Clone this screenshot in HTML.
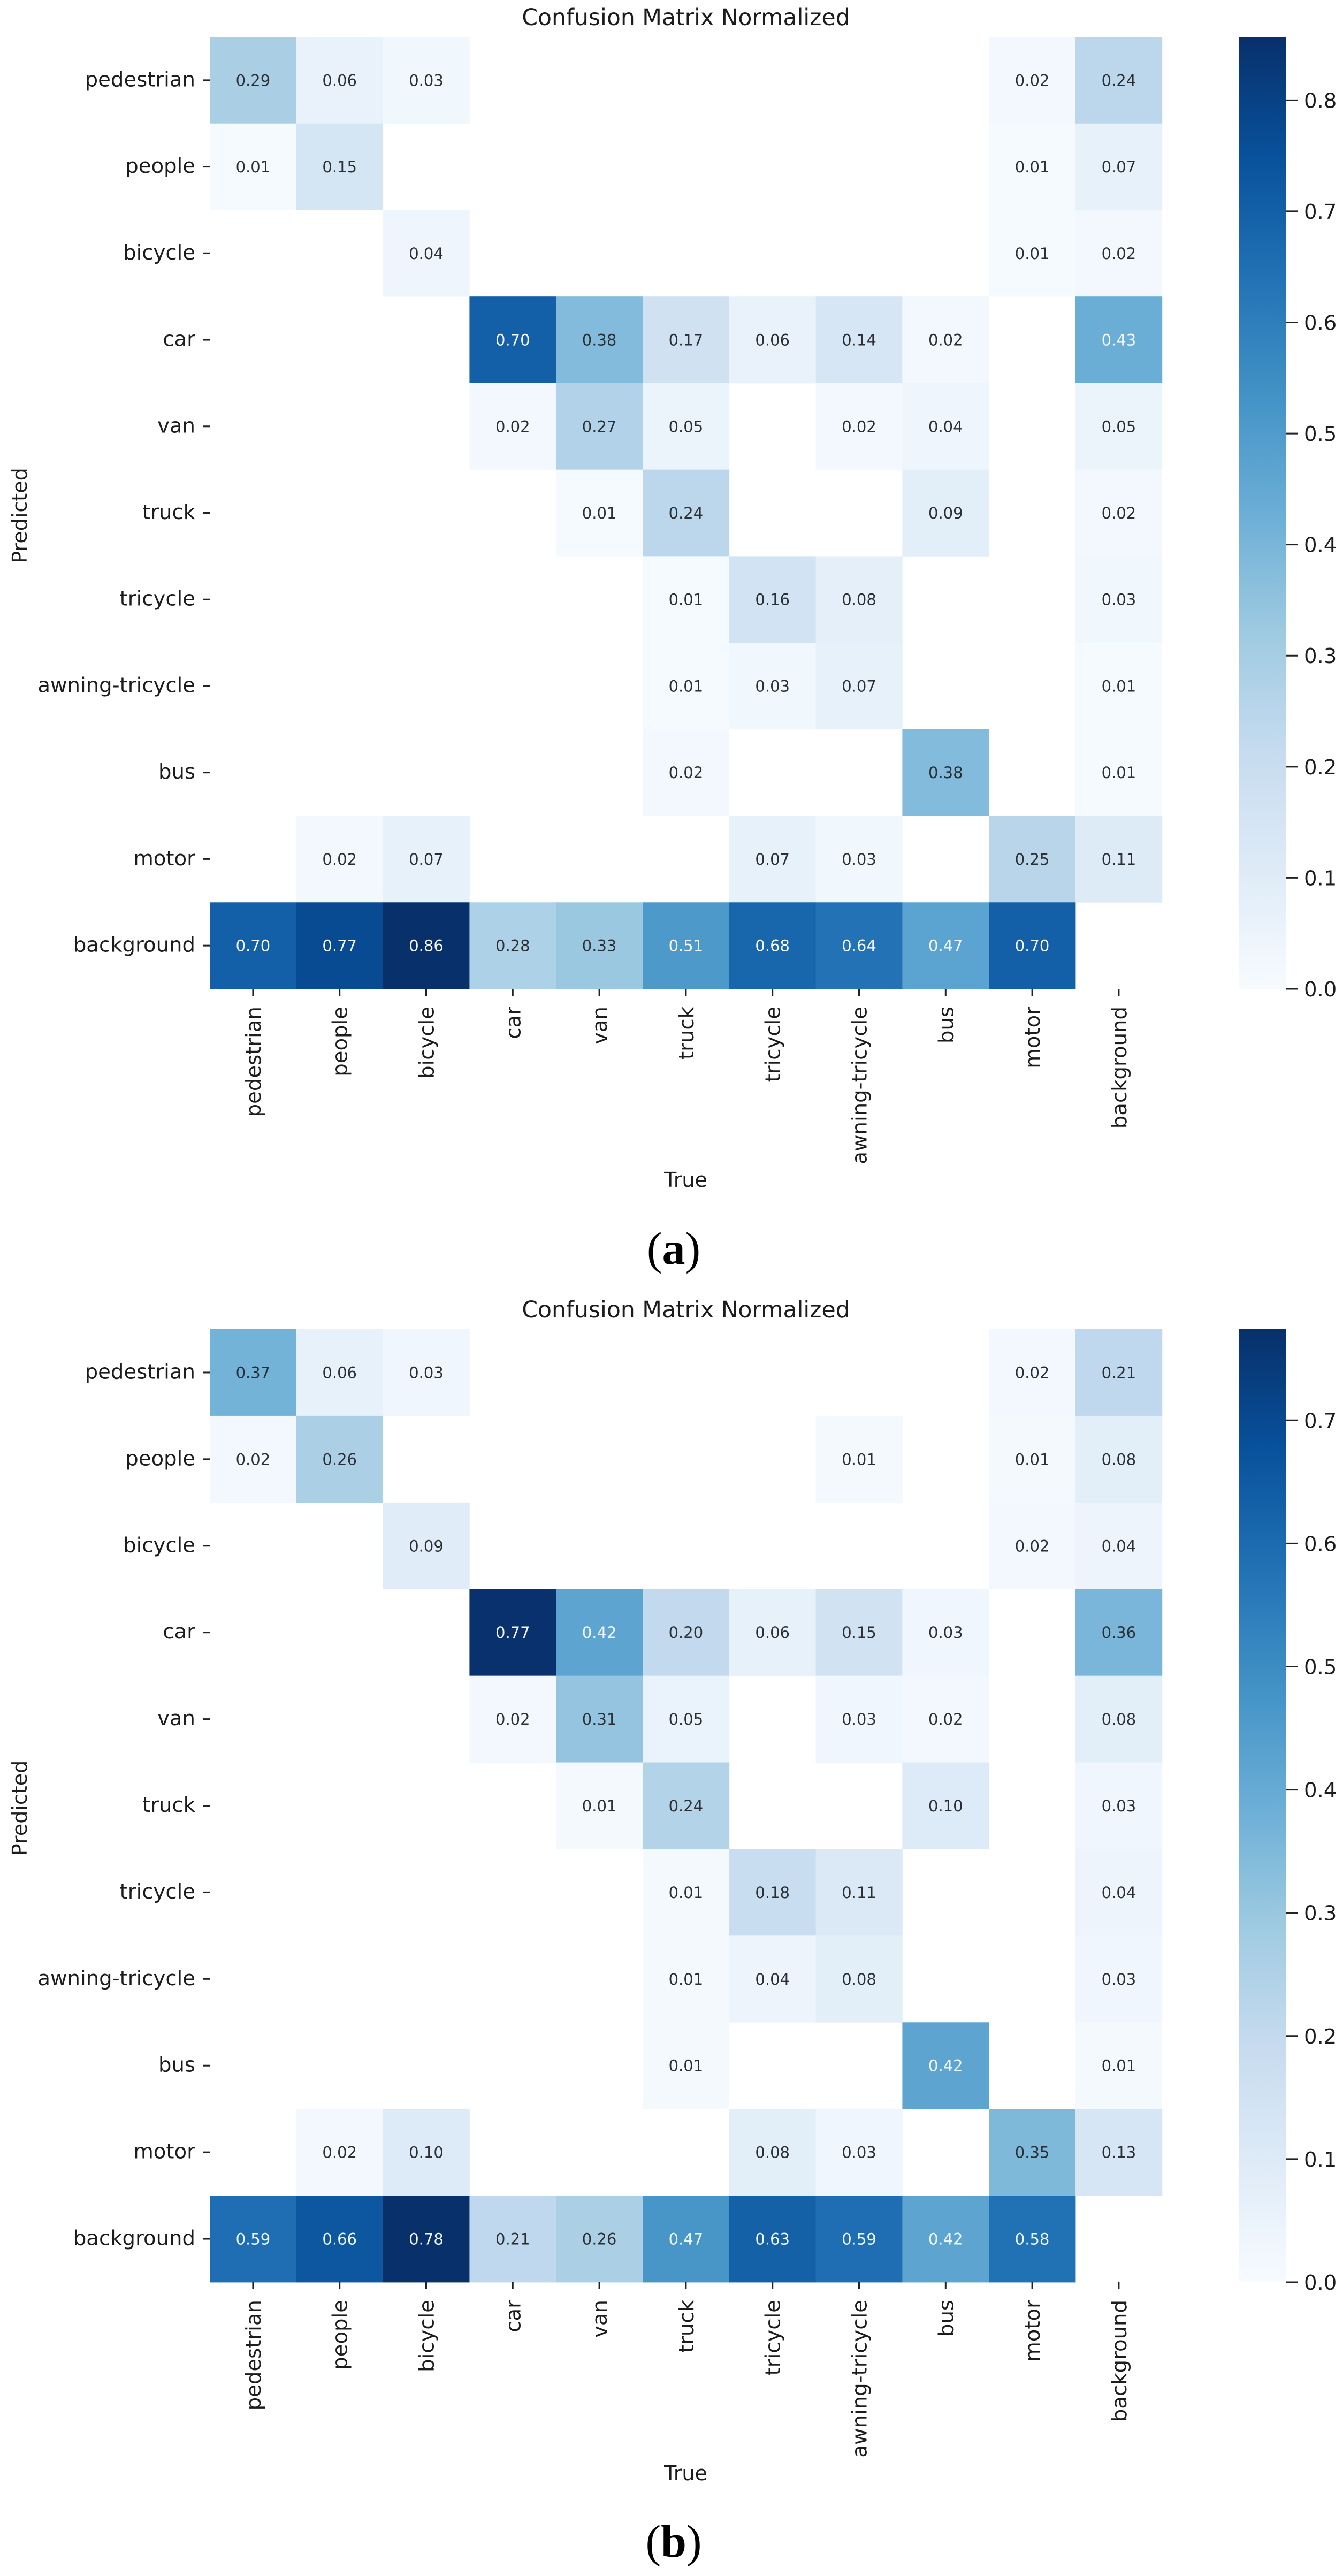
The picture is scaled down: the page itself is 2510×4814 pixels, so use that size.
<!DOCTYPE html>
<html lang="en">
<head>
<meta charset="utf-8">
<title>Confusion Matrix Normalized</title>
<style>
  html, body { margin: 0; padding: 0; background: #ffffff; }
  svg { display: block; }
  text { font-family: "DejaVu Sans", "Liberation Sans", sans-serif; fill: #1c1c1c; }
  .tick-label { font-size: 38.6px; }
  .axis-title { font-size: 38px; }
  .chart-title { font-size: 42.5px; text-anchor: middle; }
  .annot { font-size: 29px; text-anchor: middle; }
  .caption { font-family: "Liberation Serif", serif; font-size: 86px; text-anchor: middle; fill: #000; }
  .caption .letter { font-weight: bold; }
</style>
</head>
<body>
<svg id="figure" xmlns="http://www.w3.org/2000/svg" width="2510" height="4814" viewBox="0 0 2510 4814">
  <rect x="0" y="0" width="2510" height="4814" fill="#ffffff"/>
  <defs>
    <linearGradient id="blues-gradient" x1="0" y1="1" x2="0" y2="0"></linearGradient>
  </defs>

  <g id="chart-a">
    <text class="chart-title" x="1282" y="47">Confusion Matrix Normalized</text>
    <text class="axis-title" text-anchor="middle" transform="translate(50,963.5) rotate(-90)">Predicted</text>
    <text class="axis-title" text-anchor="middle" x="1281.5" y="2218">True</text>
    <text class="caption" x="1259" y="2362">(<tspan class="letter">a</tspan>)</text>
  </g>

  <g id="chart-b">
    <text class="chart-title" x="1282" y="2462">Confusion Matrix Normalized</text>
    <text class="axis-title" text-anchor="middle" transform="translate(50,3379) rotate(-90)">Predicted</text>
    <text class="axis-title" text-anchor="middle" x="1281.5" y="4635">True</text>
    <text class="caption" x="1259" y="4778">(<tspan class="letter">b</tspan>)</text>
  </g>
</svg>

<script>
// ---- data ----
const categories = ['pedestrian', 'people', 'bicycle', 'car', 'van', 'truck', 'tricycle', 'awning-tricycle', 'bus', 'motor', 'background'];

const matrixA = [
  [0.29, 0.06, 0.03, null, null, null, null, null, null, 0.02, 0.24],
  [0.01, 0.15, null, null, null, null, null, null, null, 0.01, 0.07],
  [null, null, 0.04, null, null, null, null, null, null, 0.01, 0.02],
  [null, null, null, 0.70, 0.38, 0.17, 0.06, 0.14, 0.02, null, 0.43],
  [null, null, null, 0.02, 0.27, 0.05, null, 0.02, 0.04, null, 0.05],
  [null, null, null, null, 0.01, 0.24, null, null, 0.09, null, 0.02],
  [null, null, null, null, null, 0.01, 0.16, 0.08, null, null, 0.03],
  [null, null, null, null, null, 0.01, 0.03, 0.07, null, null, 0.01],
  [null, null, null, null, null, 0.02, null, null, 0.38, null, 0.01],
  [null, 0.02, 0.07, null, null, null, 0.07, 0.03, null, 0.25, 0.11],
  [0.70, 0.77, 0.86, 0.28, 0.33, 0.51, 0.68, 0.64, 0.47, 0.70, null]
];

const matrixB = [
  [0.37, 0.06, 0.03, null, null, null, null, null, null, 0.02, 0.21],
  [0.02, 0.26, null, null, null, null, null, 0.01, null, 0.01, 0.08],
  [null, null, 0.09, null, null, null, null, null, null, 0.02, 0.04],
  [null, null, null, 0.77, 0.42, 0.20, 0.06, 0.15, 0.03, null, 0.36],
  [null, null, null, 0.02, 0.31, 0.05, null, 0.03, 0.02, null, 0.08],
  [null, null, null, null, 0.01, 0.24, null, null, 0.10, null, 0.03],
  [null, null, null, null, null, 0.01, 0.18, 0.11, null, null, 0.04],
  [null, null, null, null, null, 0.01, 0.04, 0.08, null, null, 0.03],
  [null, null, null, null, null, 0.01, null, null, 0.42, null, 0.01],
  [null, 0.02, 0.10, null, null, null, 0.08, 0.03, null, 0.35, 0.13],
  [0.59, 0.66, 0.78, 0.21, 0.26, 0.47, 0.63, 0.59, 0.42, 0.58, null]
];

const colorbarTicksA = [0.0, 0.1, 0.2, 0.3, 0.4, 0.5, 0.6, 0.7, 0.8];
const colorbarTicksB = [0.0, 0.1, 0.2, 0.3, 0.4, 0.5, 0.6, 0.7];
const colorbarMaxA = 0.857;
const colorbarMaxB = 0.774;

// Matplotlib "Blues" anchors, evenly spaced from 0 to 1
const bluesAnchors = ['#f7fbff', '#deebf7', '#c6dbef', '#9ecae1', '#6baed6', '#4292c6', '#2171b5', '#08519c', '#08306b'];

// ---- layout ----
const SVG_NS = 'http://www.w3.org/2000/svg';
const plotLeft = 392;
const cellWidth = 161.8;
const colorbarLeft = 2315;
const colorbarRight = 2404;

function hexToRgb(hex) {
  return [parseInt(hex.slice(1, 3), 16), parseInt(hex.slice(3, 5), 16), parseInt(hex.slice(5, 7), 16)];
}

function bluesRgb(t) {
  const clamped = Math.max(0, Math.min(1, t));
  const pos = clamped * (bluesAnchors.length - 1);
  const lo = Math.min(Math.floor(pos), bluesAnchors.length - 2);
  const f = pos - lo;
  const a = hexToRgb(bluesAnchors[lo]);
  const b = hexToRgb(bluesAnchors[lo + 1]);
  return [0, 1, 2].map(function (k) { return Math.round(a[k] + (b[k] - a[k]) * f); });
}

function luminance(rgb) {
  const lin = rgb.map(function (c) {
    const v = c / 255;
    return v <= 0.03928 ? v / 12.92 : Math.pow((v + 0.055) / 1.055, 2.4);
  });
  return 0.2126 * lin[0] + 0.7152 * lin[1] + 0.0722 * lin[2];
}

function make(tag, attrs, parent) {
  const el = document.createElementNS(SVG_NS, tag);
  Object.keys(attrs).forEach(function (k) { el.setAttribute(k, attrs[k]); });
  parent.appendChild(el);
  return el;
}

// colorbar gradient built from the colormap anchors
const gradient = document.getElementById('blues-gradient');
bluesAnchors.forEach(function (color, i) {
  make('stop', { offset: i / (bluesAnchors.length - 1), 'stop-color': color }, gradient);
});

function drawMatrix(parent, matrix, top, bottom, colorbarMax, colorbarTicks) {
  const rowHeight = (bottom - top) / categories.length;
  const xCenter = function (i) { return plotLeft + (i + 0.5) * cellWidth; };
  const yCenter = function (i) { return top + (i + 0.5) * rowHeight; };
  const yBar = function (v) { return bottom - (bottom - top) * v / colorbarMax; };

  // cells and annotations
  matrix.forEach(function (row, r) {
    row.forEach(function (value, c) {
      if (value === null) { return; }
      const rgb = bluesRgb(value / colorbarMax);
      const cell = make('rect', {
        x: plotLeft + c * cellWidth,
        y: top + r * rowHeight,
        width: cellWidth + 0.4,
        height: rowHeight + 0.4,
        fill: 'rgb(' + rgb.join(',') + ')'
      }, parent);
      
      

      const label = make('text', {
        class: 'annot',
        x: xCenter(c),
        y: yCenter(r) + 10.5,
        style: 'fill:' + (luminance(rgb) < 0.408 ? '#f4f8fc' : '#2b2f33')
      }, parent);
      label.textContent = value.toFixed(2);
      
      
    });
  });

  // category ticks and labels
  categories.forEach(function (name, i) {
    const yTick = make('line', {
      x1: 380, x2: plotLeft, y1: yCenter(i), y2: yCenter(i), stroke: '#222', 'stroke-width': 3
    }, parent);
    
    

    const yLabel = make('text', {
      class: 'tick-label', x: 365, y: yCenter(i) + 11.5, 'text-anchor': 'end'
    }, parent);
    yLabel.textContent = name;
    
    

    const xTick = make('line', {
      x1: xCenter(i), x2: xCenter(i), y1: bottom, y2: bottom + 13, stroke: '#222', 'stroke-width': 3
    }, parent);
    
    

    const xLabel = make('text', {
      class: 'tick-label',
      'text-anchor': 'end',
      transform: 'translate(' + (xCenter(i) + 14) + ',' + (bottom + 33) + ') rotate(-90)'
    }, parent);
    xLabel.textContent = name;
    
    
  });

  // colorbar
  const bar = make('rect', {
    x: colorbarLeft,
    y: top,
    width: colorbarRight - colorbarLeft,
    height: bottom - top,
    fill: 'url(#blues-gradient)'
  }, parent);
  
  

  colorbarTicks.forEach(function (v) {
    const tick = make('line', {
      x1: colorbarRight, x2: colorbarRight + 22, y1: yBar(v), y2: yBar(v), stroke: '#222', 'stroke-width': 3
    }, parent);
    
    

    const label = make('text', { class: 'tick-label', x: 2437, y: yBar(v) + 14 }, parent);
    label.textContent = v.toFixed(1);
    
    
  });
}

drawMatrix(document.getElementById('chart-a'), matrixA, 69, 1848, colorbarMaxA, colorbarTicksA);
drawMatrix(document.getElementById('chart-b'), matrixB, 2484, 4265, colorbarMaxB, colorbarTicksB);
</script>
</body>
</html>
